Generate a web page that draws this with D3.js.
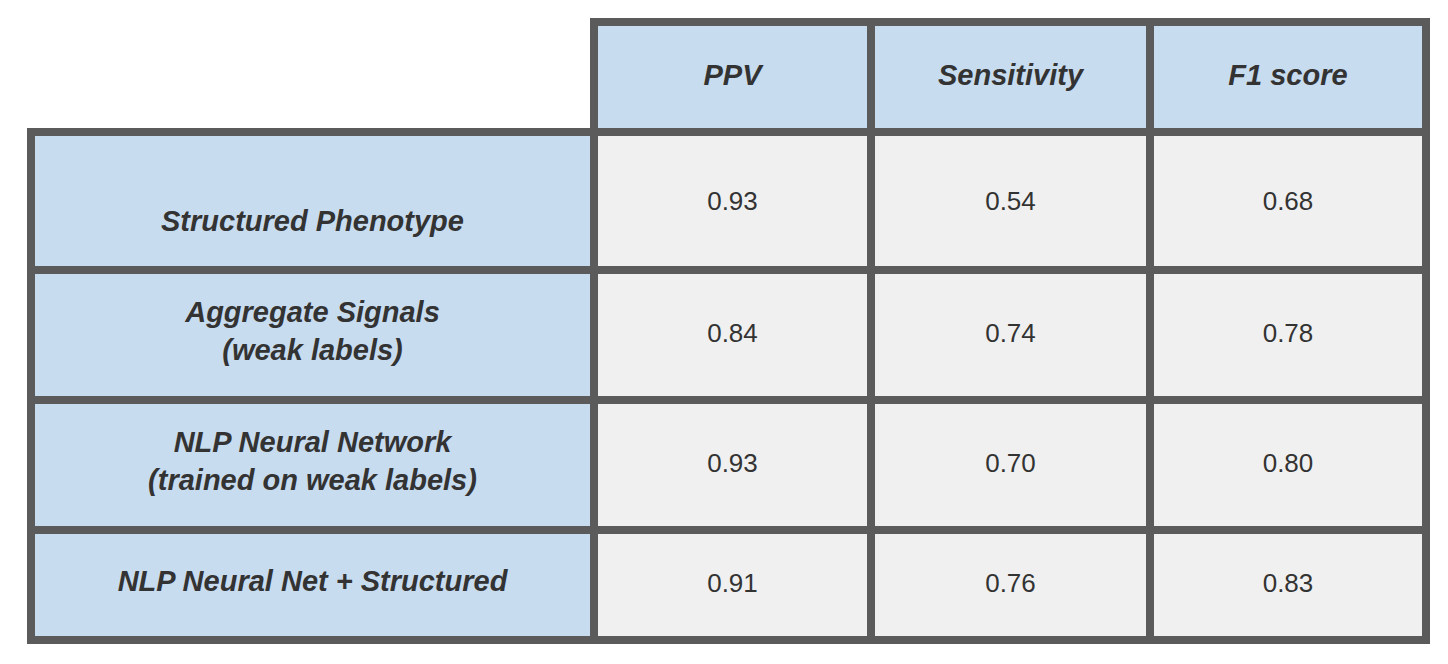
<!DOCTYPE html>
<html>
<head>
<meta charset="utf-8">
<script src="https://cdn.jsdelivr.net/npm/d3@7"></script>
<style>
  body { margin: 0; background: #fff; }
  svg text { font-family: "Liberation Sans", Arial, sans-serif; fill: #333; }
</style>
</head>
<body>
<svg id="chart" width="1448" height="664"></svg>
<script>
var cols = ['PPV', 'Sensitivity', 'F1 score'];
var rows = [
  { name: ['Structured Phenotype'], values: ['0.93', '0.54', '0.68'], nameDy: 24 },
  { name: ['Aggregate Signals', '(weak labels)'], values: ['0.84', '0.74', '0.78'] },
  { name: ['NLP Neural Network', '(trained on weak labels)'], values: ['0.93', '0.70', '0.80'] },
  { name: ['NLP Neural Net  + Structured'], values: ['0.91', '0.76', '0.83'] }
];

// grid line positions (centres of the 8px borders)
var xs = [31, 594, 871, 1150, 1426];
var ys = [22, 132, 270, 400, 530, 640];

var svg = d3.select('#chart');

function cell(x0, x1, y0, y1, fill) {
  svg.append('rect')
    .attr('x', x0).attr('y', y0)
    .attr('width', x1 - x0).attr('height', y1 - y0)
    .attr('fill', fill)
    .attr('stroke', '#5b5b5b')
    .attr('stroke-width', 8);
}

function label(x, y, lines, italic) {
  var t = svg.append('text')
    .attr('x', x)
    .attr('text-anchor', 'middle')
    .attr('font-size', italic ? 29 : 26)
    .attr('font-weight', italic ? 'bold' : 'normal')
    .attr('font-style', italic ? 'italic' : 'normal');
  var lh = 38, top = y - (lines.length - 1) * lh / 2;
  lines.forEach(function(l, i) {
    t.append('tspan').attr('x', x).attr('y', top + i * lh).attr('dy', '0.35em').text(l);
  });
}

// header
cols.forEach(function(c, j) {
  cell(xs[j + 1], xs[j + 2], ys[0], ys[1], '#c8dcf0');
  label((xs[j + 1] + xs[j + 2]) / 2, (ys[0] + ys[1]) / 2 - 2, [c], true);
});

// body
rows.forEach(function(r, i) {
  var y0 = ys[i + 1], y1 = ys[i + 2], cy = (y0 + y1) / 2;
  cell(xs[0], xs[1], y0, y1, '#c8dcf0');
  label((xs[0] + xs[1]) / 2, cy + (r.nameDy || 0) - 4, r.name, true);
  r.values.forEach(function(v, j) {
    cell(xs[j + 1], xs[j + 2], y0, y1, '#f0f0f0');
    label((xs[j + 1] + xs[j + 2]) / 2, cy - (r.nameDy ? 0 : 2) - (i === 0 ? 0 : 0), [v], false);
  });
});
</script>
</body>
</html>
